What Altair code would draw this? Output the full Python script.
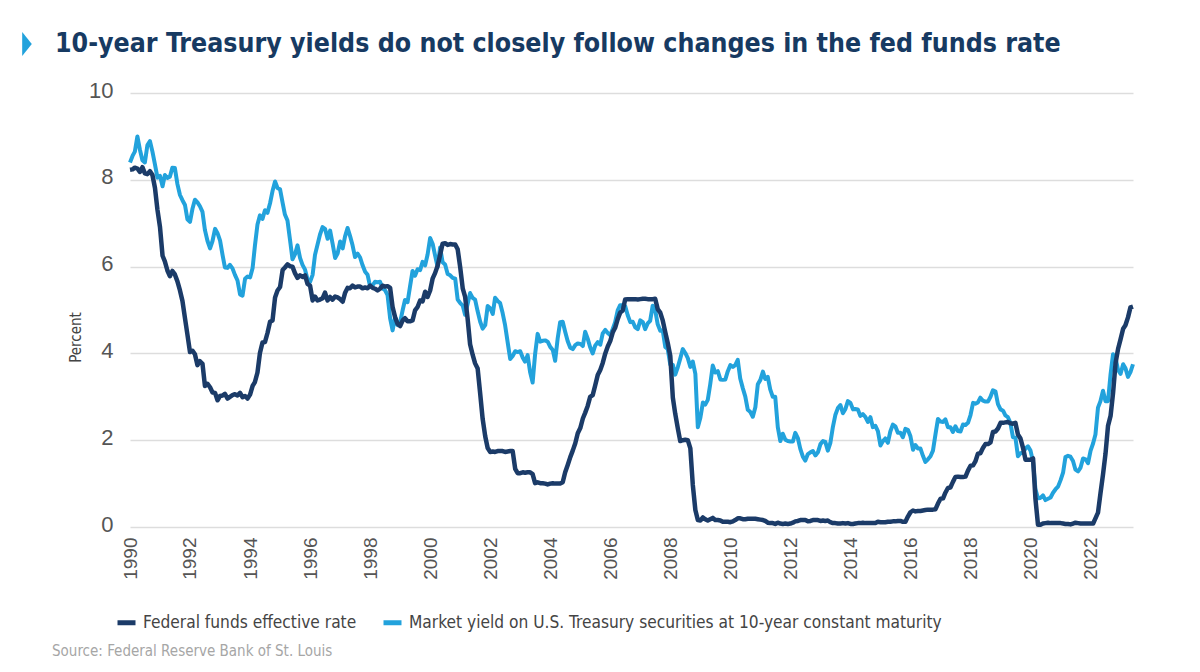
import altair as alt
import pandas as pd

NARROW = "DejaVu Sans Condensed, Liberation Sans Narrow, sans-serif"
REGULAR = "Liberation Sans, Arial, sans-serif"

title_text = "10-year Treasury yields do not closely follow changes in the fed funds rate"
source_text = "Source: Federal Reserve Bank of St. Louis"
y_title = "Percent"
ff_name = "Federal funds effective rate"
ty_name = "Market yield on U.S. Treasury securities at 10-year constant maturity"

start_month = "1990-01-01"
tick_years = list(range(1990, 2023, 2))
y_ticks = [0, 2, 4, 6, 8, 10]

# monthly values, Jan 1990 - Jun 2023
fed_funds = [
    8.23, 8.24, 8.28, 8.26, 8.18, 8.29, 8.15, 8.13, 8.20, 8.11, 7.81, 7.31,  # 1990
    6.91, 6.25, 6.12, 5.91, 5.78, 5.90, 5.82, 5.66, 5.45, 5.21, 4.81, 4.43,  # 1991
    4.03, 4.06, 3.98, 3.73, 3.82, 3.76, 3.25, 3.30, 3.22, 3.10, 3.09, 2.92,  # 1992
    3.02, 3.03, 3.07, 2.96, 3.00, 3.04, 3.06, 3.03, 3.09, 2.99, 3.02, 2.96,  # 1993
    3.05, 3.25, 3.34, 3.56, 4.01, 4.25, 4.26, 4.47, 4.73, 4.76, 5.29, 5.45,  # 1994
    5.53, 5.92, 5.98, 6.05, 6.01, 6.00, 5.85, 5.74, 5.80, 5.76, 5.80, 5.60,  # 1995
    5.56, 5.22, 5.31, 5.22, 5.24, 5.27, 5.40, 5.22, 5.30, 5.24, 5.31, 5.29,  # 1996
    5.25, 5.19, 5.39, 5.51, 5.50, 5.56, 5.52, 5.54, 5.54, 5.50, 5.52, 5.50,  # 1997
    5.56, 5.51, 5.49, 5.45, 5.49, 5.56, 5.54, 5.55, 5.51, 5.07, 4.83, 4.68,  # 1998
    4.63, 4.76, 4.81, 4.74, 4.74, 4.76, 4.99, 5.07, 5.22, 5.20, 5.42, 5.30,  # 1999
    5.45, 5.73, 5.85, 6.02, 6.27, 6.53, 6.54, 6.50, 6.52, 6.51, 6.51, 6.40,  # 2000
    5.98, 5.49, 5.31, 4.80, 4.21, 3.97, 3.77, 3.65, 3.07, 2.49, 2.09, 1.82,  # 2001
    1.73, 1.74, 1.73, 1.75, 1.75, 1.75, 1.73, 1.74, 1.75, 1.75, 1.34, 1.24,  # 2002
    1.24, 1.26, 1.25, 1.26, 1.26, 1.22, 1.01, 1.03, 1.01, 1.01, 1.00, 0.98,  # 2003
    1.00, 1.01, 1.00, 1.00, 1.00, 1.03, 1.26, 1.43, 1.61, 1.76, 1.93, 2.16,  # 2004
    2.28, 2.50, 2.63, 2.79, 3.00, 3.04, 3.26, 3.50, 3.62, 3.78, 4.00, 4.16,  # 2005
    4.29, 4.49, 4.59, 4.79, 4.94, 4.99, 5.24, 5.25, 5.25, 5.25, 5.25, 5.24,  # 2006
    5.25, 5.26, 5.26, 5.25, 5.25, 5.25, 5.26, 5.02, 4.94, 4.76, 4.49, 4.24,  # 2007
    3.94, 2.98, 2.61, 2.28, 1.98, 2.00, 2.01, 2.00, 1.81, 0.97, 0.39, 0.16,  # 2008
    0.15, 0.22, 0.18, 0.15, 0.18, 0.21, 0.16, 0.16, 0.15, 0.12, 0.12, 0.12,  # 2009
    0.11, 0.13, 0.16, 0.20, 0.20, 0.18, 0.18, 0.19, 0.19, 0.19, 0.19, 0.18,  # 2010
    0.17, 0.16, 0.14, 0.10, 0.09, 0.09, 0.07, 0.10, 0.08, 0.07, 0.08, 0.07,  # 2011
    0.08, 0.10, 0.13, 0.14, 0.16, 0.16, 0.16, 0.13, 0.14, 0.16, 0.16, 0.16,  # 2012
    0.14, 0.15, 0.14, 0.15, 0.11, 0.09, 0.09, 0.08, 0.08, 0.09, 0.08, 0.09,  # 2013
    0.07, 0.07, 0.08, 0.09, 0.09, 0.10, 0.09, 0.09, 0.09, 0.09, 0.09, 0.12,  # 2014
    0.11, 0.11, 0.11, 0.12, 0.12, 0.13, 0.13, 0.14, 0.14, 0.12, 0.12, 0.24,  # 2015
    0.34, 0.38, 0.36, 0.37, 0.37, 0.38, 0.39, 0.40, 0.40, 0.40, 0.41, 0.54,  # 2016
    0.65, 0.66, 0.79, 0.90, 0.91, 1.04, 1.15, 1.16, 1.15, 1.15, 1.16, 1.30,  # 2017
    1.41, 1.42, 1.51, 1.69, 1.70, 1.82, 1.91, 1.91, 1.95, 2.19, 2.20, 2.27,  # 2018
    2.40, 2.40, 2.41, 2.42, 2.39, 2.38, 2.40, 2.13, 2.04, 1.83, 1.55, 1.55,  # 2019
    1.55, 1.58, 0.65, 0.05, 0.05, 0.08, 0.09, 0.10, 0.09, 0.09, 0.09, 0.09,  # 2020
    0.09, 0.08, 0.07, 0.07, 0.06, 0.08, 0.10, 0.09, 0.08, 0.08, 0.08, 0.08,  # 2021
    0.08, 0.08, 0.20, 0.33, 0.77, 1.21, 1.68, 2.33, 2.56, 3.08, 3.78, 4.10,  # 2022
    4.33, 4.57, 4.65, 4.83, 5.06, 5.08,                                      # 2023
]

treasury_10y = [
    8.40, 8.55, 8.65, 9.00, 8.70, 8.45, 8.40, 8.80, 8.89, 8.65, 8.35, 8.05,  # 1990
    8.09, 7.85, 8.11, 8.04, 8.07, 8.28, 8.27, 7.90, 7.65, 7.53, 7.42, 7.09,  # 1991
    7.03, 7.34, 7.54, 7.48, 7.39, 7.26, 6.84, 6.59, 6.42, 6.59, 6.87, 6.77,  # 1992
    6.60, 6.26, 5.98, 5.97, 6.04, 5.96, 5.81, 5.68, 5.36, 5.33, 5.72, 5.77,  # 1993
    5.75, 5.97, 6.48, 6.97, 7.18, 7.10, 7.30, 7.24, 7.46, 7.74, 7.96, 7.81,  # 1994
    7.78, 7.47, 7.20, 7.06, 6.63, 6.17, 6.28, 6.49, 6.20, 6.04, 5.93, 5.71,  # 1995
    5.65, 5.81, 6.27, 6.51, 6.74, 6.91, 6.87, 6.64, 6.83, 6.53, 6.20, 6.30,  # 1996
    6.58, 6.42, 6.69, 6.89, 6.71, 6.49, 6.22, 6.30, 6.21, 6.03, 5.88, 5.81,  # 1997
    5.54, 5.57, 5.65, 5.64, 5.65, 5.50, 5.46, 5.34, 4.81, 4.53, 4.83, 4.65,  # 1998
    4.72, 5.00, 5.23, 5.18, 5.54, 5.90, 5.79, 5.94, 5.92, 6.11, 6.03, 6.28,  # 1999
    6.66, 6.52, 6.26, 5.99, 6.44, 6.10, 6.05, 5.83, 5.80, 5.74, 5.72, 5.24,  # 2000
    5.16, 5.10, 4.89, 5.14, 5.39, 5.28, 5.24, 4.97, 4.73, 4.57, 4.65, 5.09,  # 2001
    5.04, 4.91, 5.28, 5.21, 5.16, 4.93, 4.65, 4.26, 3.87, 3.94, 4.05, 4.03,  # 2002
    4.05, 3.90, 3.81, 3.96, 3.57, 3.33, 3.98, 4.45, 4.27, 4.29, 4.30, 4.27,  # 2003
    4.15, 4.08, 3.83, 4.35, 4.72, 4.73, 4.50, 4.28, 4.13, 4.10, 4.19, 4.23,  # 2004
    4.22, 4.17, 4.50, 4.34, 4.14, 4.00, 4.18, 4.26, 4.20, 4.46, 4.54, 4.47,  # 2005
    4.42, 4.57, 4.72, 4.99, 5.11, 5.11, 5.09, 4.88, 4.72, 4.73, 4.60, 4.56,  # 2006
    4.76, 4.72, 4.56, 4.69, 4.75, 5.10, 5.00, 4.67, 4.52, 4.53, 4.15, 4.10,  # 2007
    3.74, 3.74, 3.51, 3.68, 3.88, 4.10, 4.01, 3.89, 3.69, 3.81, 3.53, 2.30,  # 2008
    2.52, 2.87, 2.82, 2.93, 3.29, 3.72, 3.56, 3.59, 3.40, 3.39, 3.40, 3.59,  # 2009
    3.73, 3.69, 3.73, 3.85, 3.42, 3.20, 3.01, 2.70, 2.65, 2.54, 2.76, 3.29,  # 2010
    3.39, 3.58, 3.41, 3.46, 3.17, 3.00, 3.00, 2.30, 1.98, 2.15, 2.01, 1.98,  # 2011
    1.97, 1.97, 2.17, 2.05, 1.80, 1.62, 1.53, 1.68, 1.72, 1.75, 1.65, 1.72,  # 2012
    1.91, 1.98, 1.96, 1.76, 1.93, 2.30, 2.58, 2.74, 2.81, 2.62, 2.72, 2.90,  # 2013
    2.86, 2.71, 2.72, 2.71, 2.56, 2.60, 2.54, 2.42, 2.53, 2.30, 2.33, 2.21,  # 2014
    1.88, 1.98, 2.04, 1.94, 2.20, 2.36, 2.32, 2.17, 2.17, 2.07, 2.26, 2.24,  # 2015
    2.09, 1.78, 1.89, 1.81, 1.81, 1.64, 1.50, 1.56, 1.63, 1.76, 2.14, 2.49,  # 2016
    2.43, 2.42, 2.48, 2.30, 2.30, 2.19, 2.32, 2.21, 2.20, 2.36, 2.35, 2.40,  # 2017
    2.58, 2.86, 2.84, 2.87, 2.98, 2.91, 2.89, 2.89, 3.00, 3.15, 3.12, 2.83,  # 2018
    2.71, 2.68, 2.57, 2.53, 2.40, 2.07, 2.06, 1.63, 1.70, 1.71, 1.81, 1.86,  # 2019
    1.76, 1.50, 0.87, 0.66, 0.67, 0.73, 0.62, 0.65, 0.68, 0.79, 0.87, 0.93,  # 2020
    1.08, 1.26, 1.61, 1.64, 1.62, 1.52, 1.32, 1.28, 1.37, 1.58, 1.56, 1.47,  # 2021
    1.76, 1.93, 2.13, 2.75, 2.90, 3.14, 2.90, 2.90, 3.52, 3.98, 3.89, 3.62,  # 2022
    3.53, 3.75, 3.66, 3.46, 3.57, 3.75,                                      # 2023
]

months = pd.date_range(start_month, periods=len(fed_funds), freq="MS").strftime("%Y-%m-%dT00:00:00")
df = pd.concat([
    pd.DataFrame({"date": months, "value": treasury_10y, "series": ty_name}),
    pd.DataFrame({"date": months, "value": fed_funds, "series": ff_name}),
], ignore_index=True)

DARK = "#1b3b68"
LIGHT = "#22a2dc"

x_enc = alt.X(
    "date:T",
    scale=alt.Scale(domain=[alt.DateTime(year=1990, month=1, date=1),
                            alt.DateTime(year=2023, month=6, date=1)]),
    axis=alt.Axis(
        values=[alt.DateTime(year=y, month=1, date=1) for y in tick_years],
        format="%Y", labelAngle=-90, labelFontSize=19, labelFont=REGULAR,
        labelColor="#555555", labelPadding=10, domain=False, ticks=False,
        grid=False, title=None,
    ),
)
y_enc = alt.Y(
    "value:Q",
    scale=alt.Scale(domain=[0, 10], nice=False),
    axis=alt.Axis(
        values=y_ticks, grid=True, gridColor="#dddddd", gridWidth=1.5,
        domain=False, ticks=False, labelFontSize=22, labelFont=REGULAR,
        labelColor="#555555", labelPadding=17, labelOffset=-3,
        title=y_title, titleFont=NARROW, titleFontSize=15,
        titleFontWeight="normal", titleColor="#444444",
        titleX=-55, titleY=244, titleAngle=-90, titleAlign="center",
        titleBaseline="middle",
    ),
)
color_enc = alt.Color(
    "series:N",
    scale=alt.Scale(domain=[ff_name, ty_name], range=[DARK, LIGHT]),
    legend=alt.Legend(
        title=None, orient="none", legendX=-15, legendY=518,
        direction="horizontal", columns=2, symbolType="stroke",
        symbolSize=324, symbolStrokeWidth=5, labelFont=NARROW,
        labelFontSize=17.2, labelColor="#444444", labelOffset=5,
        columnPadding=16, labelLimit=1000, padding=0,
    ),
)

base = alt.Chart(df).encode(x=x_enc, y=y_enc, color=color_enc)
light_line = base.transform_filter(alt.datum.series == ty_name).mark_line(
    strokeWidth=4, strokeJoin="round")
dark_line = base.transform_filter(alt.datum.series == ff_name).mark_line(
    strokeWidth=4.5, strokeJoin="round")

text_df = pd.DataFrame({"title": [title_text], "source": [source_text]})
title_layer = alt.Chart(text_df).mark_text(
    align="left", baseline="middle", font=NARROW, fontSize=26.5,
    fontWeight="bold", color="#173a62",
).encode(x=alt.value(-75), y=alt.value(-49), text="title:N")
marker_layer = alt.Chart(text_df).mark_point(
    shape="M -0.4 -1 L 0.4 0 L -0.4 1 Z", size=576, filled=True,
    color=LIGHT, opacity=1, strokeWidth=0,
).encode(x=alt.value(-103), y=alt.value(-49))
source_layer = alt.Chart(text_df).mark_text(
    align="left", baseline="middle", font=NARROW, fontSize=15,
    color="#a6a6a6",
).encode(x=alt.value(-78), y=alt.value(558), text="source:N")

chart = alt.layer(
    light_line, dark_line, title_layer, marker_layer, source_layer
).properties(
    width=1003, height=434, autosize="none",
    padding={"left": 122, "top": 85, "right": 55, "bottom": 150},
    background="white",
).configure_view(stroke=None)

chart.save("out.html", embed_options={"renderer": "svg", "actions": False})
